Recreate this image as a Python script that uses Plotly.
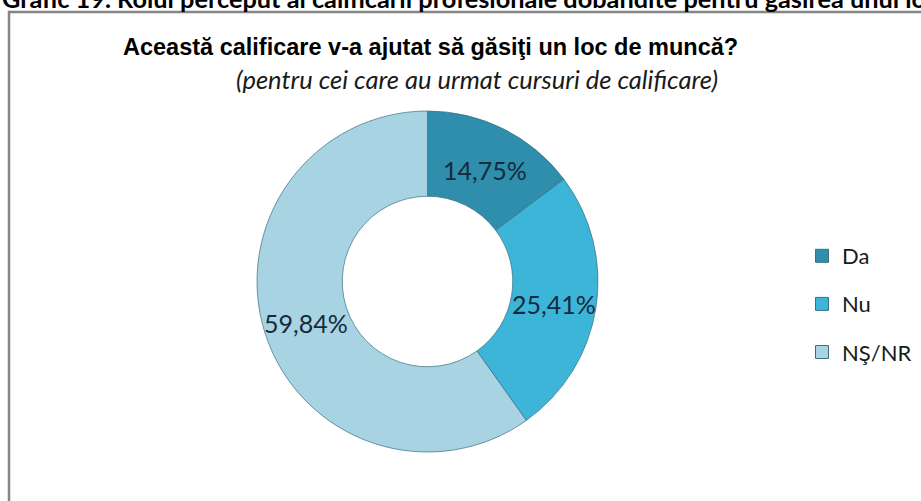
import math
import plotly.graph_objects as go

# Survey answers and their shares (%)
categories = ["Da", "Nu", "NŞ/NR"]
shares = [14.75, 25.41, 59.84]
slice_colors = ["#2e8eab", "#3cb5d8", "#a7d3e3"]

caption_text = ("Grafic 19. Rolul perceput al calificării profesionale dobândite "
                "pentru găsirea unui loc de muncă")
title_text = "Această calificare v-a ajutat să găsiţi un loc de muncă?"
subtitle_text = "(pentru cei care au urmat cursuri de calificare)"

W, H = 921, 501

# Donut geometry in pixels
CX, CY = 427.5, 281.5
R_OUT = 170.5
HOLE = 0.5


def px(x):
    return x / W


def py(y):
    return 1 - y / H


fig = go.Figure()

fig.add_trace(go.Pie(
    labels=categories,
    values=shares,
    hole=HOLE,
    sort=False,
    direction="clockwise",
    rotation=0,
    marker=dict(colors=slice_colors,
                line=dict(color="rgba(60,110,130,0.7)", width=1)),
    textinfo="none",
    domain=dict(x=[px(CX - R_OUT), px(CX + R_OUT)],
                y=[py(CY + R_OUT), py(CY - R_OUT)]),
    showlegend=False,
    hoverinfo="label+percent",
))

# Value labels at the middle of each ring segment
total = sum(shares)
r_mid = R_OUT * (1 + HOLE) / 2
label_annotations = []
cum = 0.0
for val in shares:
    ang = 2 * math.pi * (cum + val / 2) / total
    cum += val
    lx = CX + r_mid * math.sin(ang)
    ly = CY - r_mid * math.cos(ang) + 3
    label_annotations.append(dict(
        text=f"{val:.2f}%".replace(".", ","),
        x=px(lx), y=py(ly), xref="paper", yref="paper",
        xanchor="center", yanchor="middle", showarrow=False,
        font=dict(family="Lato", size=25, color="#152a3a"),
    ))

# Legend entries, one group per answer so the rows can be spaced apart
for name, color in zip(categories, slice_colors):
    fig.add_trace(go.Scatter(
        x=[None], y=[None], mode="markers", name=name, legendgroup=name,
        marker=dict(symbol="square", size=13, color=color,
                    line=dict(color="#3a6f80", width=1)),
        hoverinfo="skip",
    ))

fig.update_layout(
    width=W, height=H,
    margin=dict(l=0, r=0, t=0, b=0),
    paper_bgcolor="white",
    plot_bgcolor="white",
    xaxis=dict(visible=False),
    yaxis=dict(visible=False),
    legend=dict(
        x=px(802), y=py(235), xanchor="left", yanchor="top",
        font=dict(family="Lato", size=22, color="#1a1a1a"),
        tracegroupgap=16.5,
        bgcolor="rgba(0,0,0,0)",
    ),
    shapes=[dict(
        type="rect", xref="paper", yref="paper",
        x0=px(9), x1=1.05, y0=-0.05, y1=py(12),
        line=dict(color="#858585", width=2.5),
    )],
    annotations=[
        dict(text=caption_text, x=0, y=py(15), xref="paper", yref="paper",
             xanchor="left", yanchor="bottom", showarrow=False,
             font=dict(family="Lato", size=25.3, weight="bold", color="black")),
        dict(text=title_text, x=px(430), y=py(47), xref="paper", yref="paper",
             xanchor="center", yanchor="middle", showarrow=False,
             font=dict(family="Liberation Sans", size=23.5, weight="bold",
                       color="black")),
        dict(text=subtitle_text, x=px(477), y=py(79), xref="paper",
             yref="paper", xanchor="center", yanchor="middle", showarrow=False,
             font=dict(family="Lato", size=25.5, style="italic",
                       color="#1a1a1a")),
    ] + label_annotations,
)

fig.write_html("out.html")
